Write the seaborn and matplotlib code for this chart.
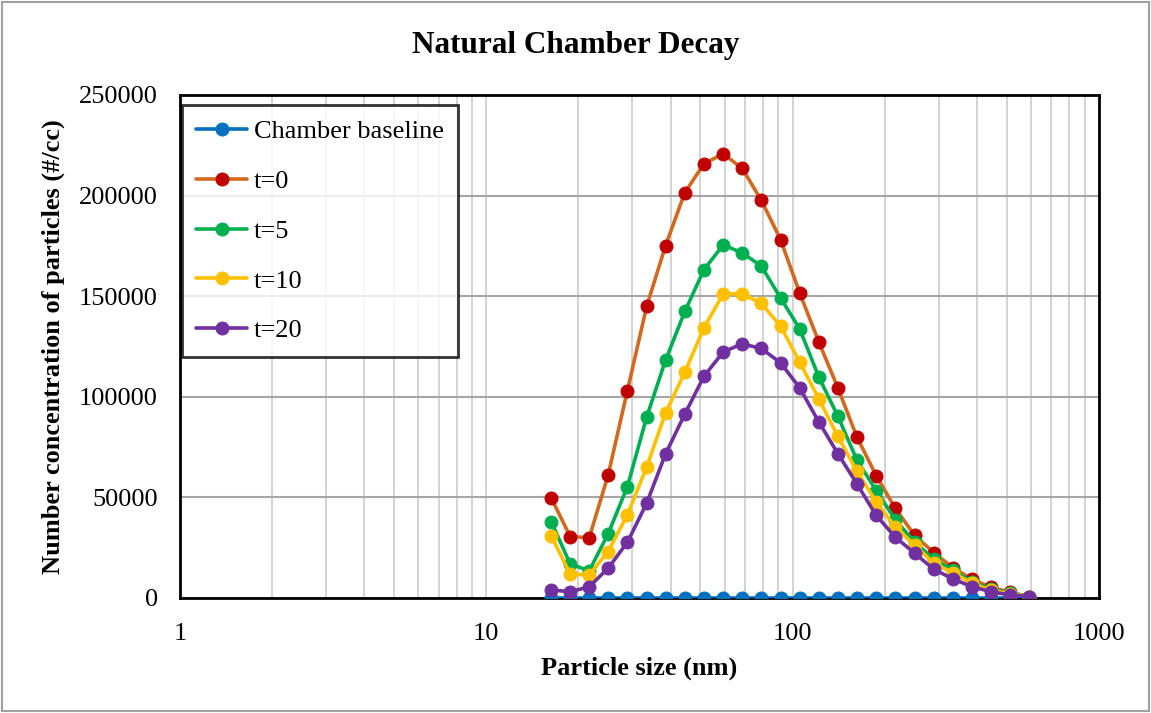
import matplotlib
matplotlib.use("Agg")
import matplotlib.pyplot as plt
import seaborn as sns
import pandas as pd
from matplotlib.patches import Rectangle

sizes = [16.3, 18.8, 21.7, 25.0, 28.9, 33.4, 38.5, 44.5, 51.4, 59.4, 68.5, 79.1, 91.4,
         105.5, 121.9, 140.7, 162.5, 187.7, 216.7, 250.3, 289.0, 333.8, 385.4, 445.1, 514.0, 593.5]

baseline = [0] * 26
t0 = [49700, 30500, 30000, 61100, 103100, 144900, 175100, 201500, 215800, 220800, 213500,
      197700, 178100, 151700, 127200, 104400, 79800, 60800, 44500, 31200, 22600, 15100,
      9300, 5300, 2800, 700]
t5 = [38000, 16800, 13600, 31900, 55400, 89900, 118200, 142400, 163200, 175500, 171500,
      165000, 149100, 133800, 109800, 90300, 68400, 53400, 38800, 27900, 19300, 13900,
      8100, 4300, 2500, 700]
t10 = [30900, 11800, 11500, 23100, 41300, 65100, 92000, 112200, 134300, 151200, 151200,
       146400, 135100, 117400, 98900, 80300, 62900, 47800, 35200, 26400, 17300, 12600,
       7300, 3800, 2200, 700]
t20 = [4000, 3100, 5600, 14800, 27700, 47100, 71600, 91400, 110200, 122300, 126300,
       124000, 116900, 104500, 87500, 71700, 56600, 41000, 30200, 22300, 14300, 9500,
       5600, 3100, 1500, 700]

labels = ["Chamber baseline", "t=0", "t=5", "t=10", "t=20"]
series = [baseline, t0, t5, t10, t20]
line_colors = ["#0070C0", "#D2691E", "#00B050", "#FFC000", "#7030A0"]
marker_colors = ["#0070C0", "#C00000", "#00B050", "#FFC000", "#7030A0"]

sns.set_theme(style="white")
plt.rcParams["font.family"] = ["Liberation Serif", "DejaVu Serif"]
plt.rcParams["text.color"] = "black"
plt.rcParams["axes.labelcolor"] = "black"

fig = plt.figure(figsize=(11.51, 7.13), dpi=100)
ax = fig.add_axes([0.1564, 0.1613, 0.9546 - 0.1564, 0.8668 - 0.1613])

for lab, vals, lc, mc in zip(labels, series, line_colors, marker_colors):
    df = pd.DataFrame({"size": sizes, "conc": vals})
    sns.lineplot(data=df, x="size", y="conc", ax=ax, color=lc, linewidth=2.6,
                 marker="o", markersize=9.3, markerfacecolor=mc, markeredgecolor=mc,
                 label=lab, zorder=3)

ax.set_xscale("log")
ax.set_xlim(1, 1000)
ax.set_ylim(0, 250000)
ax.set_yticks([0, 50000, 100000, 150000, 200000, 250000])
ax.set_yticklabels(["0", "50000", "100000", "150000", "200000", "250000"])
ax.set_xticks([1, 10, 100, 1000])
ax.set_xticklabels(["1", "10", "100", "1000"])

ax.grid(True, which="major", axis="y", color="#A6A6A6", linewidth=1.5)
ax.grid(True, which="both", axis="x", color="#D0D0D0", linewidth=1.3)
ax.set_axisbelow(True)

ax.tick_params(axis="both", which="both", length=0, labelsize=19, colors="black")
ax.tick_params(axis="y", pad=16)
ax.tick_params(axis="x", pad=18)

for s in ax.spines.values():
    s.set_color("black")
    s.set_linewidth(2)
    s.set_visible(True)

ax.set_xlabel("Particle size (nm)", fontsize=19, fontweight="bold", labelpad=8)
ax.set_ylabel("Number concentration of particles (#/cc)", fontsize=19, fontweight="bold", labelpad=10)
fig.text(0.5, 1 - 46 / 713, "Natural Chamber Decay", fontsize=22.5, fontweight="bold",
         ha="center", va="center", color="black")

leg = ax.legend(loc="upper left", bbox_to_anchor=(0.002, 0.980), fontsize=19, frameon=True,
                fancybox=False, handlelength=1.93, labelspacing=1.0, borderpad=0.55,
                handletextpad=0.25, borderaxespad=0.0)
leg.get_frame().set_edgecolor("black")
leg.get_frame().set_linewidth(2)
for h, mc in zip(leg.get_lines(), marker_colors):
    h.set_markerfacecolor(mc)
    h.set_markeredgecolor(mc)
for t in leg.get_texts():
    t.set_color("black")

fig.patches.append(Rectangle((0.002, 0.003), 0.996, 0.994, transform=fig.transFigure,
                             fill=False, edgecolor="#A0A0A0", linewidth=1.5))

fig.savefig("out.png", dpi=100)
